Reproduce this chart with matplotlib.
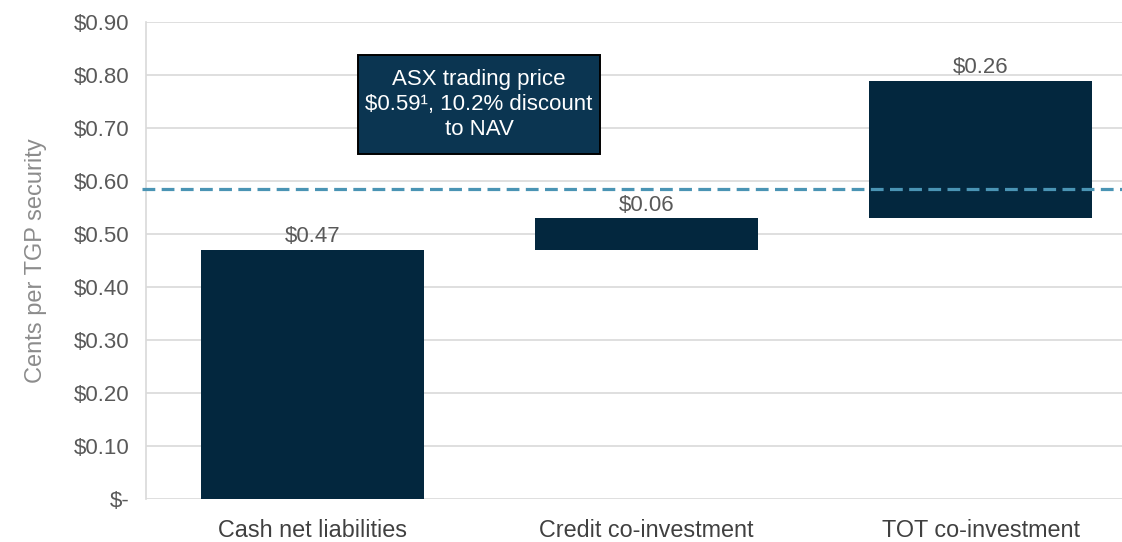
import numpy as np
import matplotlib.pyplot as plt
from matplotlib.patches import Rectangle

categories = ["Cash net liabilities", "Credit co-investment", "TOT co-investment"]
values = [0.47, 0.06, 0.26]
asx_price = 0.585
yticks = [0.0, 0.1, 0.2, 0.3, 0.4, 0.5, 0.6, 0.7, 0.8, 0.9]
ytick_labels = ["$-", "$0.10", "$0.20", "$0.30", "$0.40", "$0.50", "$0.60", "$0.70", "$0.80", "$0.90"]

plt.rcParams['font.family'] = ['Liberation Sans', 'DejaVu Sans']

fig = plt.figure(figsize=(11.22, 5.42), dpi=100)
# axes run a bit past the right edge of the figure, like the original
ax = fig.add_axes([0.130, 0.079, 0.893, 0.880])

# waterfall: each bar starts where the previous one ended
bottoms = np.concatenate([[0], np.cumsum(values)[:-1]])
x = np.arange(len(categories))
ax.bar(x, values, bottom=bottoms, width=0.668, color='#03273e', zorder=3)

for xi, b, v in zip(x, bottoms, values):
    ax.text(xi, b + v + 0.005, f"${v:.2f}", ha='center', va='bottom',
            fontsize=16, color='#595959', zorder=4)

# ASX trading price line
ax.axhline(asx_price, xmin=-0.004, xmax=1, color='#4a94b4', lw=2.3,
           dashes=(4, 2), zorder=5, clip_on=False)

# callout box
ax.add_patch(Rectangle((0.136, 0.651), 0.725, 0.187, facecolor='#0b3551',
                       edgecolor='black', lw=1.4, zorder=6))
ax.text(0.4985, 0.744, "ASX trading price\n$0.59\u00b9, 10.2% discount\nto NAV",
        ha='center', va='center', fontsize=16, color='white', linespacing=1.25,
        zorder=7)

ax.set_xlim(-0.4985, 2.5)
ax.set_ylim(0, 0.9)
ax.set_yticks(yticks)
ax.set_yticklabels(ytick_labels)
ax.set_xticks(x)
ax.set_xticklabels(categories)
ax.tick_params(axis='y', length=0, pad=12, labelsize=16, labelcolor='#595959')
ax.tick_params(axis='x', length=0, pad=14, labelsize=16.8, labelcolor='#404040')
ax.grid(axis='y', color='#d9d9d9', lw=1.2, zorder=0)
for s in ['top', 'right', 'bottom']:
    ax.spines[s].set_visible(False)
ax.spines['left'].set_color('#d9d9d9')
ax.spines['left'].set_linewidth(1.2)

ax.set_ylabel("Cents per TGP security", fontsize=17, color='#8c8c8c', labelpad=19)

fig.savefig("out.png", dpi=100)
